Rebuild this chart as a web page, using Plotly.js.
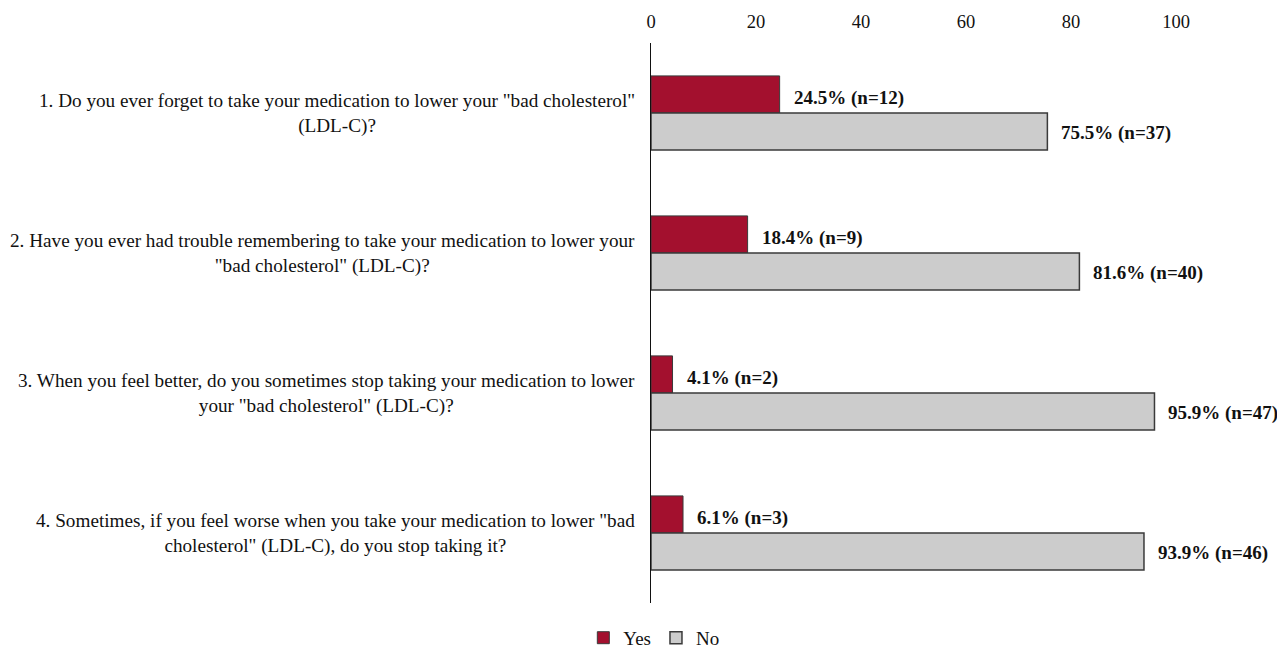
<!DOCTYPE html>
<html><head><meta charset="utf-8">
<script src="https://cdn.plot.ly/plotly-3.0.1.min.js"></script>
<style>body{margin:0;background:#fff}#chart{width:1277px;height:648px}</style>
</head><body><div id="chart"></div>
<script>
const categories = ["Q1","Q2","Q3","Q4"];
const questionLabels = [
  "1. Do you ever forget to take your medication to lower your \"bad cholesterol\"<br>(LDL-C)?",
  "2. Have you ever had trouble remembering to take your medication to lower your<br>\"bad cholesterol\" (LDL-C)?",
  "3. When you feel better, do you sometimes stop taking your medication to lower<br>your \"bad cholesterol\" (LDL-C)?",
  "4. Sometimes, if you feel worse when you take your medication to lower \"bad<br>cholesterol\" (LDL-C), do you stop taking it?"
];
const yesPct = [24.5, 18.4, 4.1, 6.1];
const yesN = [12, 9, 2, 3];
const noPct = [75.5, 81.6, 95.9, 93.9];
const noN = [37, 40, 47, 46];
const xTicks = [0, 20, 40, 60, 80, 100];

const serif = "'Liberation Serif', 'Times New Roman', Times, serif";
const traces = [
  {type:'bar', orientation:'h', name:'Yes', y:categories, x:yesPct,
   marker:{color:'#A3102E', line:{color:'#3a3a3a', width:1}}, hoverinfo:'skip'},
  {type:'bar', orientation:'h', name:'No', y:categories, x:noPct,
   marker:{color:'#CCCCCC', line:{color:'#3a3a3a', width:1.5}}, hoverinfo:'skip'}
];
const annotations = [];
categories.forEach((c,i)=>{
  annotations.push({x:0, xref:'paper', y:c, yref:'y', text:questionLabels[i], showarrow:false,
    xanchor:'right', yanchor:'middle', align:'center', xshift:-14,
    font:{family:serif, size:19.2, color:'#111'}});
  annotations.push({x:yesPct[i], y:c, text:yesPct[i].toFixed(1)+'% (n='+yesN[i]+')', showarrow:false,
    xanchor:'left', yanchor:'middle', xshift:12, yshift:15,
    font:{family:serif, size:19, color:'#111', weight:'bold'}});
  annotations.push({x:noPct[i], y:c, text:noPct[i].toFixed(1)+'% (n='+noN[i]+')', showarrow:false,
    xanchor:'left', yanchor:'middle', xshift:12, yshift:-20,
    font:{family:serif, size:19, color:'#111', weight:'bold'}});
});
const layout = {
  width:1277, height:648,
  margin:{l:651, r:101, t:43, b:45},
  paper_bgcolor:'#fff', plot_bgcolor:'#fff',
  barmode:'group', bargap:0.47, bargroupgap:0,
  font:{family:serif, color:'#111'},
  xaxis:{side:'top', range:[0,100], tickvals:xTicks, ticktext:xTicks.map(String),
    showgrid:false, zeroline:false, showline:false, ticks:'', tickfont:{family:serif, size:18.5, color:'#111'},
    ticklabelstandoff:10, fixedrange:true},
  yaxis:{autorange:'reversed', showticklabels:false, showgrid:false, zeroline:false,
    showline:true, linecolor:'#111', linewidth:1.5, ticks:'', fixedrange:true},
  showlegend:true,
  legend:{orientation:'h', xref:'container', x:0.512, xanchor:'center', yref:'container', y:0.045, yanchor:'top',
    font:{family:serif, size:19, color:'#111'}, itemwidth:30, tracegroupgap:0},
  annotations:annotations
};
Plotly.newPlot('chart', traces, layout, {displayModeBar:false, staticPlot:true});
</script></body></html>
